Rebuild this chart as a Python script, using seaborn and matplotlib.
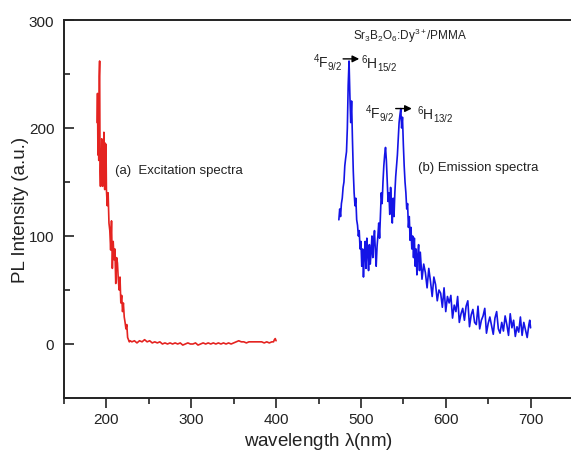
import matplotlib
matplotlib.use("Agg")
import matplotlib.pyplot as plt
from matplotlib.ticker import MultipleLocator
import seaborn as sns

sns.set_theme(style="ticks")
plt.rcParams["font.family"] = ["Liberation Sans", "DejaVu Sans"]
plt.rcParams["mathtext.fontset"] = "custom"
plt.rcParams["mathtext.rm"] = "Liberation Sans"
plt.rcParams["mathtext.it"] = "Liberation Sans"

# (a) excitation spectrum
ex_wl = [189, 189.5, 190, 190.5, 191, 191.5, 192, 192.5, 193, 193.5, 194, 194.5,
         195, 195.5, 196, 196.5, 197, 197.5, 198, 198.5, 199, 199.5, 200, 201,
         202, 203, 204, 205, 206, 207, 208, 209, 210, 211, 212, 213, 214, 215,
         216, 217, 218, 219, 220, 221, 222, 223, 224, 225, 226, 227, 228, 230,
         233, 236, 239, 242, 245, 248, 251, 254, 257, 260, 263, 266, 269, 272,
         275, 278, 281, 284, 287, 290, 293, 296, 299, 302, 305, 308, 311, 314,
         317, 320, 323, 326, 329, 332, 335, 338, 341, 344, 347, 350, 353, 356,
         359, 362, 365, 368, 371, 374, 377, 380, 383, 386, 389, 392, 395, 397,
         398, 399, 400]
ex_int = [205, 232, 175, 225, 170, 248, 262, 160, 146, 180, 150, 190,
          185, 146, 178, 150, 196, 170, 143, 186, 150, 185, 143, 128,
          140, 112, 105, 87, 114, 70, 95, 78, 88, 56, 80, 75, 60, 50,
          62, 38, 45, 30, 38, 25, 20, 14, 18, 6, 4, 2, 3, 2,
          3, 1, 3, 2, 4, 2, 3, 1, 2, 1, 2, 0, 1, 0,
          1, 0, 1, 0, 1, -1, 0, 1, 0, 0, 1, -1, 0, 1,
          0, 1, 0, 1, 0, 1, 0, 1, 0, 1, 0, 1, 2, 3,
          2, 2, 1, 2, 2, 2, 2, 2, 2, 1, 2, 1, 2, 2,
          4, 5, 3]

# (b) emission spectrum
em_wl = [474, 475, 476, 477, 478, 479, 480, 481, 482, 483, 484, 485, 486, 487,
         488, 489, 490, 491, 492, 493, 494, 495, 496, 497, 498, 499, 500, 501,
         502, 503, 504, 505, 506, 507, 508, 509, 510, 511, 512, 513, 514, 515,
         516, 517, 518, 519, 520, 521, 522, 523, 524, 525, 526, 527, 528, 529,
         530, 531, 532, 533, 534, 535, 536, 537, 538, 539, 540, 541, 542, 543,
         544, 545, 546, 547, 548, 549, 550, 551, 552, 553, 554, 555, 556, 557,
         558, 559, 560, 561, 562, 563, 564, 565, 566, 567, 568, 569, 570, 572,
         574, 576, 578, 580, 582, 584, 586, 588, 590, 592, 594, 596, 598, 600,
         602, 604, 606, 608, 610, 612, 614, 616, 618, 620, 622, 624, 626, 628,
         630, 632, 634, 636, 638, 640, 642, 644, 646, 648, 650, 652, 654, 656,
         658, 660, 662, 664, 666, 668, 670, 672, 674, 676, 678, 680, 682, 684,
         686, 688, 690, 692, 694, 696, 698, 699, 700]
em_int = [115, 125, 118, 130, 135, 145, 150, 165, 172, 178, 200, 240, 262, 230,
          205, 225, 190, 160, 140, 128, 135, 115, 110, 100, 105, 88, 95, 72,
          88, 62, 82, 95, 70, 98, 85, 68, 92, 74, 85, 100, 80, 95,
          105, 86, 72, 90, 100, 112, 98, 120, 140, 130, 150, 165, 175, 182,
          170, 150, 132, 140, 120, 145, 126, 112, 135, 118, 140, 155, 165, 175,
          190, 205, 212, 218, 200, 210, 185, 165, 150, 140, 125, 130, 108, 118,
          96, 108, 88, 100, 80, 98, 72, 88, 64, 82, 92, 68, 85, 60,
          74, 66, 52, 70, 58, 44, 62, 55, 40, 50, 47, 34, 52, 30,
          44, 38, 45, 24, 36, 30, 44, 20, 28, 33, 22, 35, 40, 16,
          27, 32, 20, 18, 35, 14, 22, 26, 33, 10, 19, 25, 17, 9,
          24, 30, 14, 10, 20, 12, 26, 18, 8, 28, 15, 22, 7, 16,
          11, 25, 8, 20, 13, 6, 18, 22, 15]

fig = plt.figure(figsize=(5.71, 4.56), dpi=100)
ax = fig.add_axes([64 / 571, 57 / 456, 509 / 571, 378 / 456])

sns.lineplot(x=ex_wl, y=ex_int, ax=ax, color="#e42320", linewidth=1.2,
             estimator=None, sort=False)
sns.lineplot(x=em_wl, y=em_int, ax=ax, color="#1414e6", linewidth=1.2,
             estimator=None, sort=False)

ax.set_xlim(150, 750)
ax.set_ylim(-50, 300)
ax.xaxis.set_major_locator(MultipleLocator(100))
ax.xaxis.set_minor_locator(MultipleLocator(50))
ax.yaxis.set_major_locator(MultipleLocator(100))
ax.yaxis.set_minor_locator(MultipleLocator(50))
ax.tick_params(axis="x", which="both", direction="out", bottom=True, top=False,
               labelsize=11, pad=3, colors="#222222")
ax.tick_params(axis="y", which="both", direction="in", left=True, right=False,
               labelsize=11, pad=7, colors="#222222")
ax.tick_params(which="major", length=7, width=1.2)
ax.tick_params(which="minor", length=4, width=1.2)
for sp in ax.spines.values():
    sp.set_visible(True)
    sp.set_linewidth(1.4)
    sp.set_color("#222222")

ax.set_xlabel(r"wavelength $\lambda$(nm)", fontsize=13.5, color="#222222", labelpad=3)
ax.set_ylabel("PL Intensity (a.u.)", fontsize=13.5, color="#222222", labelpad=0)

ax.text(558, 286, r"Sr$_3$B$_2$O$_6$:Dy$^{3+}$/PMMA", fontsize=8.5,
        ha="center", va="center", color="#222222")
ax.text(210, 161, "(a)  Excitation spectra", fontsize=9.5, ha="left", va="center",
        color="#222222")
ax.text(567, 164, "(b) Emission spectra", fontsize=9.5, ha="left", va="center",
        color="#222222")

arrow = dict(arrowstyle="-|>", color="black", lw=1.0, mutation_scale=10,
             shrinkA=0, shrinkB=0)
ax.text(478, 262, r"$^4$F$_{9/2}$", fontsize=10, ha="right",
        va="center", color="#222222")
ax.annotate("", xy=(498, 264), xytext=(479, 264), arrowprops=arrow)
ax.text(500, 261, r"$^6$H$_{15/2}$", fontsize=10, ha="left",
        va="center", color="#222222")

ax.text(540, 214, r"$^4$F$_{9/2}$", fontsize=10, ha="right",
        va="center", color="#222222")
ax.annotate("", xy=(560, 218), xytext=(541, 218), arrowprops=arrow)
ax.text(566, 213, r"$^6$H$_{13/2}$", fontsize=10, ha="left",
        va="center", color="#222222")

fig.savefig("out.png", dpi=100)
